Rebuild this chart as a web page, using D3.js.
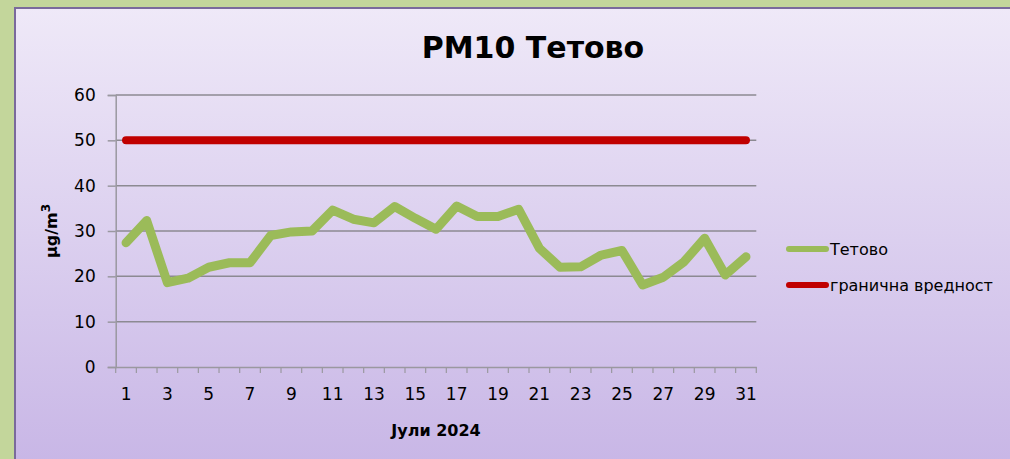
<!DOCTYPE html>
<html><head><meta charset="utf-8">
<script src="https://cdn.jsdelivr.net/npm/d3@7"></script>
<style>html,body{margin:0;padding:0;background:#c3d69b;}svg{display:block;}</style>
</head><body>
<script>
const days = d3.range(1, 32);
const tetovo = [27.4,32.3,18.6,19.6,22.0,23.0,23.0,29.0,29.8,30.0,34.6,32.6,31.8,35.4,32.8,30.4,35.5,33.2,33.2,34.8,26.2,22.0,22.1,24.7,25.7,18.1,19.8,23.2,28.4,20.3,24.3];
const limit = days.map(() => 50);
const yTicks = [0,10,20,30,40,50,60];
const xTickLabels = days.filter(d => d % 2 === 1);
const seriesNames = ["Тетово", "гранична вредност"];
const seriesColors = ["#9bbb59", "#c00000"];
const title = "PM10 Тетово";
const xTitle = "Јули 2024";

(function(){
const W = 1010, H = 459;
const font = "'DejaVu Sans', sans-serif";
const svg = d3.select("body").append("svg").attr("width", W).attr("height", H);
const defs = svg.append("defs");
const grad = defs.append("linearGradient").attr("id","bg").attr("x1",0).attr("y1",0).attr("x2",0).attr("y2",1);
grad.append("stop").attr("offset","0%").attr("stop-color","#efe9f8");
grad.append("stop").attr("offset","100%").attr("stop-color","#c8b6e6");

svg.append("rect").attr("x",0).attr("y",0).attr("width",W).attr("height",H).attr("fill","#c3d69b");
svg.append("rect").attr("x",14).attr("y",7).attr("width",W-14).attr("height",H).attr("fill","url(#bg)");
svg.append("line").attr("x1",15).attr("x2",15).attr("y1",7).attr("y2",H).attr("stroke","#7a6a9c").attr("stroke-width",2);
svg.append("line").attr("x1",14).attr("x2",W).attr("y1",8).attr("y2",8).attr("stroke","#7a6a9c").attr("stroke-width",2);

const pl = 115.7, pr = 756.3, pt = 95, pb = 367;
const x = d3.scaleBand().domain(days).range([pl, pr]);
const y = d3.scaleLinear().domain([0, 60]).range([pb, pt]);
const cx = d => x(d) + x.bandwidth()/2;

svg.append("g").selectAll("line").data(yTicks.filter(t => t > 0)).join("line")
  .attr("x1", pl).attr("x2", pr).attr("y1", d => y(d)).attr("y2", d => y(d))
  .attr("stroke", "#8c8a92").attr("stroke-width", 1.5);

const ya = svg.append("g").attr("transform", `translate(${pl},0)`)
  .call(d3.axisLeft(y).tickValues(yTicks).tickSize(8).tickPadding(12));
ya.select(".domain").attr("stroke", "#9a98a0").attr("stroke-width", 1.5);
ya.selectAll(".tick line").attr("stroke", "#9a98a0").attr("stroke-width", 1.5);
ya.selectAll("text").attr("font-family", font).attr("font-size", 17).attr("fill", "#000");

const xa = svg.append("g").attr("transform", `translate(0,${pb})`)
  .call(d3.axisBottom(x).tickValues(days).tickSize(0).tickPadding(21).tickFormat(d => xTickLabels.includes(d) ? d : ""));
xa.select(".domain").attr("stroke", "#9a98a0").attr("stroke-width", 1.5);
xa.selectAll("text").attr("font-family", font).attr("font-size", 17).attr("fill", "#000");
svg.append("g").selectAll("line").data(d3.range(0, 32)).join("line")
  .attr("x1", i => pl + i*x.step()).attr("x2", i => pl + i*x.step())
  .attr("y1", pb).attr("y2", pb + 6)
  .attr("stroke", "#9a98a0").attr("stroke-width", 1.2);

const line = d3.line().x((d,i) => cx(days[i])).y(d => y(d));
svg.append("path").datum(limit).attr("d", line).attr("fill","none")
  .attr("stroke", seriesColors[1]).attr("stroke-width", 8).attr("stroke-linecap","round");
svg.append("path").datum(tetovo).attr("d", line).attr("fill","none")
  .attr("stroke", seriesColors[0]).attr("stroke-width", 9).attr("stroke-linecap","round").attr("stroke-linejoin","round");

svg.append("text").attr("x", 533).attr("y", 58).attr("text-anchor","middle")
  .attr("font-family", font).attr("font-weight","bold").attr("font-size", 30).text(title);
svg.append("text").attr("x", (pl+pr)/2).attr("y", 436).attr("text-anchor","middle")
  .attr("font-family", font).attr("font-weight","bold").attr("font-size", 16).text(xTitle);
const yt = svg.append("text").attr("transform", "translate(57,231) rotate(-90)").attr("text-anchor","middle")
  .attr("font-family", font).attr("font-weight","bold").attr("font-size", 16);
yt.append("tspan").text("µg/m");
yt.append("tspan").attr("baseline-shift","super").attr("font-size", 12).text("3");

const lg = svg.append("g");
seriesNames.forEach((n, i) => {
  const ly = 249 + i*36;
  lg.append("line").attr("x1", 789).attr("x2", 826).attr("y1", ly).attr("y2", ly)
    .attr("stroke", seriesColors[i]).attr("stroke-width", 6).attr("stroke-linecap","round");
  lg.append("text").attr("x", 830).attr("y", ly).attr("dy","0.35em")
    .attr("font-family", font).attr("font-size", 16).text(n);
});
})();
</script>
</body></html>
